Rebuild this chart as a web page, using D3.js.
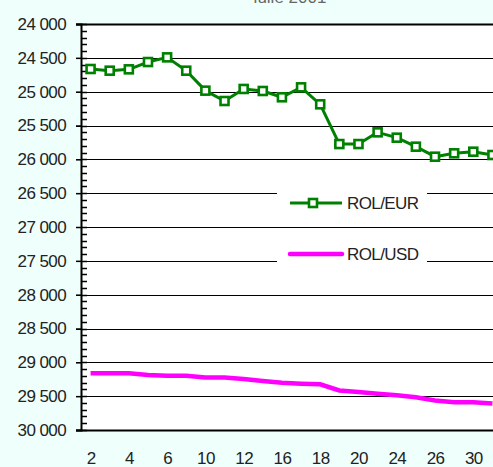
<!DOCTYPE html>
<html><head><meta charset="utf-8">
<script src="https://cdn.jsdelivr.net/npm/d3@7"></script>
<style>
html,body{margin:0;padding:0;background:#EEFFFC;overflow:hidden}
text{font-family:"Liberation Sans",Arial,sans-serif}
</style></head>
<body><svg id="c" width="493" height="467"></svg>
<script>
const days = ["2","3","4","5","6","9","10","11","12","13","16","17","18","19","20","23","24","25","26","27","30","31"];
const rolEur = [24665,24690,24670,24562,24493,24690,24985,25138,24960,24990,25083,24936,25187,25774,25774,25601,25680,25813,25961,25911,25887,25936];
const rolUsd = [29160,29160,29160,29186,29200,29200,29225,29225,29245,29275,29300,29315,29325,29415,29440,29465,29485,29515,29565,29590,29590,29610];
const yTicks = [24000,24500,25000,25500,26000,26500,27000,27500,28000,28500,29000,29500,30000];
const seriesNames = ["ROL/EUR","ROL/USD"];
const title = "iulie 2001";

const svg = d3.select("#c");
const L = 81, R = 502, T = 24, B = 430;
const x = d3.scalePoint().domain(days).range([L, R]).padding(0.5);
const y = d3.scaleLinear().domain([24000, 30000]).range([T, B]);
const fmt = v => d3.format(",")(v).replace(",", " ");

svg.append("text").attr("x", 290).attr("y", 3).attr("text-anchor", "middle")
  .attr("font-size", 17).attr("fill", "#666").text(title);

svg.append("rect").attr("x", L).attr("y", T).attr("width", R - L).attr("height", B - T).attr("fill", "#fff");

// gridlines
svg.append("g").selectAll("line").data(yTicks).join("line")
  .attr("x1", 76).attr("x2", R).attr("y1", d => Math.round(y(d)) + 0.5).attr("y2", d => Math.round(y(d)) + 0.5)
  .attr("stroke", "#000").attr("stroke-width", d => (d === 24000 || d === 30000) ? 2 : 1);

// legend backgrounds
svg.append("rect").attr("x", 277).attr("y", 189).attr("width", 150).attr("height", 27).attr("fill", "#fff");
svg.append("rect").attr("x", 277).attr("y", 242).attr("width", 150).attr("height", 24).attr("fill", "#fff");

// y axis
const ya = d3.axisLeft(y).tickValues(yTicks).tickFormat(fmt).tickSize(5).tickPadding(10);
const gy = svg.append("g").attr("transform", `translate(${L},0)`).call(ya);
gy.select(".domain").attr("stroke", "#000").attr("stroke-width", 2);
gy.selectAll(".tick line").attr("stroke", "#000").attr("stroke-width", 1.5);
gy.selectAll(".tick text").attr("font-size", 17).attr("letter-spacing", "-0.6").attr("fill", "#222")
  .attr("font-family", "Liberation Sans, Arial, sans-serif");
const minor = d3.range(24000, 30001, 100);
svg.append("g").selectAll("line").data(minor).join("line")
  .attr("x1", L).attr("x2", 87).attr("y1", d => Math.round(y(d)) + 0.5).attr("y2", d => Math.round(y(d)) + 0.5)
  .attr("stroke", "#000").attr("stroke-width", 1.5);

// x labels
const xa = d3.axisBottom(x).tickValues(days.filter((d, i) => i % 2 === 0)).tickSize(0).tickPadding(22);
const gx = svg.append("g").attr("transform", `translate(0,${B})`).call(xa);
gx.select(".domain").remove();
gx.selectAll(".tick text").attr("font-size", 17).attr("letter-spacing", "-0.6").attr("fill", "#222")
  .attr("font-family", "Liberation Sans, Arial, sans-serif");

// USD line
const line = d3.line().x((d, i) => x(days[i])).y(d => y(d));
svg.append("path").datum(rolUsd).attr("d", line).attr("fill", "none").attr("stroke", "#FF00FF").attr("stroke-width", 4.5);
// EUR line
svg.append("path").datum(rolEur).attr("d", line).attr("fill", "none").attr("stroke", "#008000").attr("stroke-width", 3).attr("stroke-linejoin", "round");
svg.append("g").selectAll("rect").data(rolEur).join("rect")
  .attr("x", (d, i) => x(days[i]) - 4).attr("y", d => y(d) - 4).attr("width", 8).attr("height", 8)
  .attr("fill", "#fff").attr("stroke", "#008000").attr("stroke-width", 2.6);

// legend
const lg = [{n: seriesNames[0], c: "#008000", w: 3, y: 203, m: true}, {n: seriesNames[1], c: "#FF00FF", w: 4.5, y: 254, m: false}];
lg.forEach(e => {
  svg.append("line").attr("x1", 290).attr("x2", 342).attr("y1", e.y).attr("y2", e.y).attr("stroke", e.c).attr("stroke-width", e.w).attr("stroke-linecap", e.m ? "butt" : "round");
  if (e.m) svg.append("rect").attr("x", 313 - 4).attr("y", e.y - 4).attr("width", 8).attr("height", 8).attr("fill", "#fff").attr("stroke", e.c).attr("stroke-width", 2.6);
  svg.append("text").attr("x", 347).attr("y", e.y + 6).attr("font-size", 17).attr("letter-spacing", "-0.6").attr("fill", "#222").text(e.n);
});
</script></body></html>
